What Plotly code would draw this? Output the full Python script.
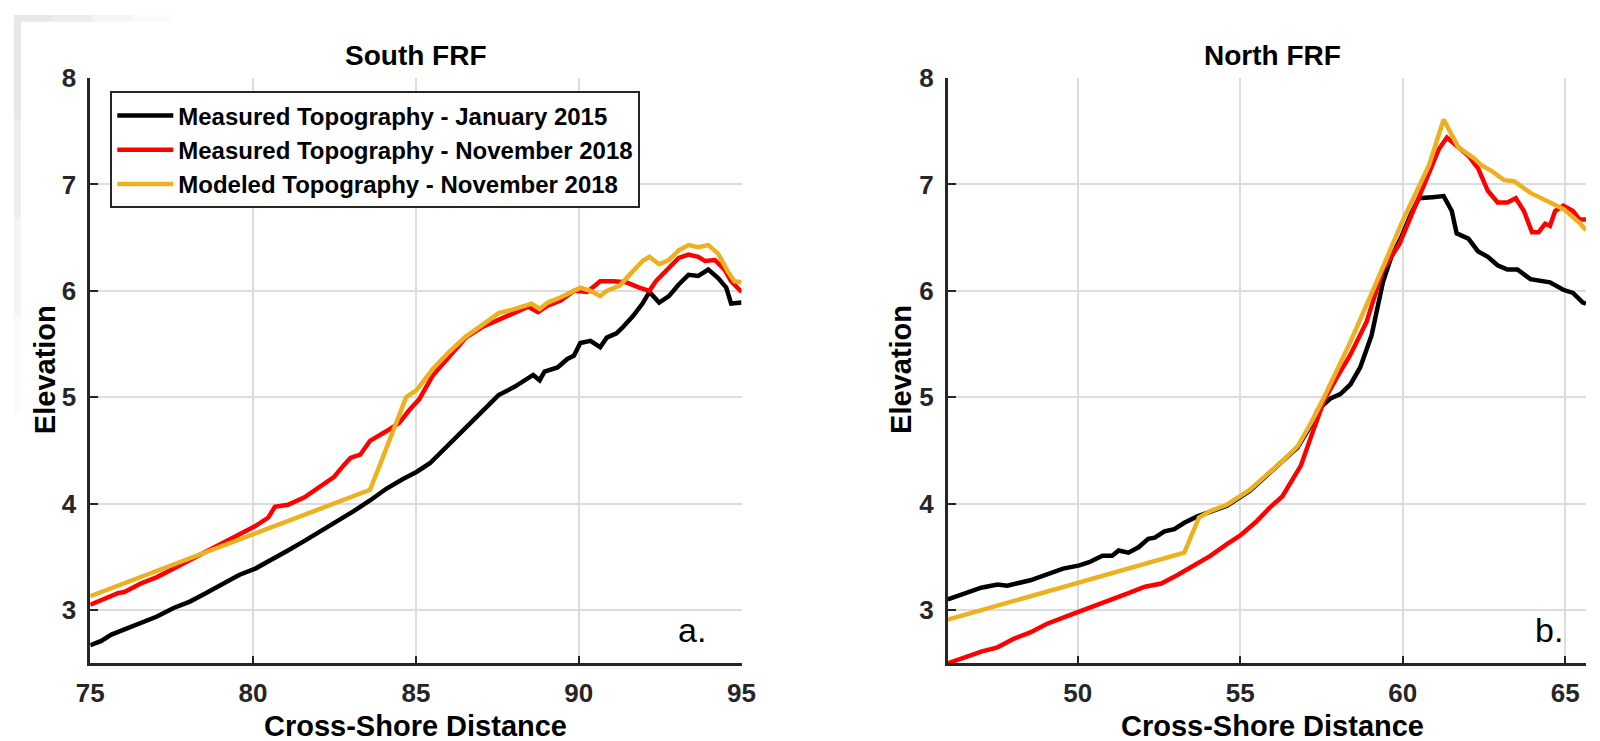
import plotly.graph_objects as go

# ---------------- data ----------------
# South FRF (panel a)
south_x_jan2015 = [75.0, 75.34, 75.65, 76.05, 76.55, 77.05, 77.56, 78.06, 78.56, 79.06, 79.57, 80.07, 80.57, 81.07,
                   81.58, 82.08, 82.58, 83.09, 83.59, 84.09, 84.59, 85.03, 85.43, 86.03, 86.53, 87.04, 87.54, 88.04,
                   88.45, 88.6, 88.8, 88.95, 89.35, 89.65, 89.85, 90.05, 90.36, 90.66, 90.86, 91.16, 91.36, 91.66,
                   91.96, 92.17, 92.47, 92.77, 93.07, 93.37, 93.67, 93.98, 94.28, 94.53, 94.68, 95.0]
south_y_jan2015 = [2.67, 2.71, 2.77, 2.82, 2.88, 2.94, 3.02, 3.08, 3.16, 3.25, 3.33, 3.39, 3.47, 3.56,
                   3.65, 3.74, 3.83, 3.93, 4.03, 4.14, 4.23, 4.30, 4.38, 4.56, 4.72, 4.87, 5.02, 5.10,
                   5.19, 5.21, 5.16, 5.24, 5.28, 5.36, 5.39, 5.51, 5.53, 5.47, 5.56, 5.60, 5.66, 5.76,
                   5.88, 5.99, 5.89, 5.95, 6.06, 6.15, 6.14, 6.20, 6.12, 6.03, 5.88, 5.89]

south_x_nov2018 = [75.0, 75.44, 75.85, 76.05, 76.55, 77.05, 77.56, 78.06, 78.56, 79.06, 79.57, 80.07, 80.47, 80.67,
                   81.07, 81.58, 82.08, 82.48, 82.78, 82.99, 83.29, 83.59, 84.09, 84.49, 84.8, 85.1, 85.53, 86.03,
                   86.53, 87.04, 87.54, 88.04, 88.45, 88.75, 89.05, 89.45, 89.85, 90.26, 90.66, 91.06, 91.46, 91.86,
                   92.17, 92.37, 92.77, 93.07, 93.37, 93.67, 93.88, 94.18, 94.48, 94.68, 95.0]
south_y_nov2018 = [3.05, 3.11, 3.16, 3.17, 3.25, 3.31, 3.39, 3.47, 3.54, 3.63, 3.71, 3.79, 3.87, 3.97,
                   3.99, 4.06, 4.16, 4.25, 4.36, 4.43, 4.46, 4.59, 4.68, 4.76, 4.88, 4.98, 5.21, 5.39,
                   5.56, 5.66, 5.73, 5.80, 5.85, 5.80, 5.86, 5.91, 6.00, 5.99, 6.09, 6.09, 6.08, 6.03,
                   6.00, 6.09, 6.21, 6.31, 6.34, 6.32, 6.28, 6.29, 6.20, 6.09, 5.99]

south_x_model = [75.0, 83.59, 83.89, 84.29, 84.7, 85.03, 85.53, 86.03, 86.53, 87.04, 87.54, 88.04, 88.55, 88.8,
                 89.05, 89.45, 90.05, 90.36, 90.66, 90.86, 91.26, 91.56, 91.96, 92.17, 92.47, 92.77, 93.07,
                 93.37, 93.67, 93.98, 94.28, 94.58, 94.78, 95.0]
south_y_model = [3.13, 4.13, 4.36, 4.69, 5.00, 5.07, 5.27, 5.43, 5.57, 5.68, 5.79, 5.83, 5.88, 5.83,
                 5.89, 5.94, 6.03, 6.00, 5.95, 6.00, 6.05, 6.15, 6.28, 6.32, 6.25, 6.29, 6.38,
                 6.43, 6.41, 6.43, 6.35, 6.18, 6.09, 6.08]

# North FRF (panel b)
north_x_jan2015 = [46.0, 46.52, 47.03, 47.53, 47.83, 48.54, 49.04, 49.55, 50.05, 50.35, 50.76, 51.06, 51.26, 51.56,
                   51.87, 52.17, 52.37, 52.67, 52.97, 53.28, 53.68, 54.08, 54.59, 55.29, 55.7, 56.3, 56.77, 57.18,
                   57.38, 57.78, 58.08, 58.39, 58.69, 59.04, 59.24, 59.39, 59.65, 59.95, 60.25, 60.5, 60.91, 61.26,
                   61.51, 61.66, 62.02, 62.32, 62.62, 62.92, 63.22, 63.53, 63.93, 64.23, 64.53, 64.94, 65.24,
                   65.54, 65.64]
north_y_jan2015 = [3.10, 3.16, 3.21, 3.24, 3.23, 3.28, 3.34, 3.39, 3.42, 3.45, 3.51, 3.51, 3.56, 3.54,
                   3.59, 3.67, 3.68, 3.74, 3.76, 3.82, 3.88, 3.92, 3.98, 4.12, 4.23, 4.39, 4.53, 4.74,
                   4.88, 4.99, 5.03, 5.12, 5.28, 5.58, 5.89, 6.08, 6.32, 6.50, 6.72, 6.87, 6.88, 6.89,
                   6.75, 6.54, 6.49, 6.37, 6.32, 6.24, 6.20, 6.20, 6.11, 6.09, 6.08, 6.01, 5.98,
                   5.89, 5.88]

north_x_nov2018 = [46.0, 46.52, 47.03, 47.53, 48.03, 48.54, 49.04, 49.55, 50.05, 50.55, 51.06, 51.56, 52.07, 52.57,
                   53.07, 53.58, 54.08, 54.59, 54.99, 55.49, 55.9, 56.3, 56.57, 56.87, 57.18, 57.58, 57.98, 58.39,
                   58.89, 59.39, 59.9, 60.4, 60.81, 61.11, 61.36, 61.61, 62.02, 62.32, 62.62, 62.92, 63.22, 63.48,
                   63.73, 63.98, 64.18, 64.38, 64.53, 64.69, 64.94, 65.24, 65.44, 65.64]
north_y_nov2018 = [2.50, 2.56, 2.61, 2.65, 2.73, 2.79, 2.87, 2.93, 2.99, 3.04, 3.10, 3.16, 3.22, 3.25,
                   3.33, 3.42, 3.51, 3.62, 3.70, 3.83, 3.96, 4.07, 4.20, 4.36, 4.63, 4.97, 5.19, 5.40,
                   5.71, 6.20, 6.44, 6.81, 7.12, 7.33, 7.44, 7.38, 7.27, 7.15, 6.94, 6.83, 6.83, 6.87,
                   6.75, 6.55, 6.55, 6.63, 6.61, 6.75, 6.80, 6.75, 6.67, 6.67]

north_x_model = [46.0, 53.28, 53.73, 54.08, 54.59, 54.89, 55.29, 55.7, 56.3, 56.77, 57.18, 57.58, 58.39, 59.19,
                 60.0, 60.81, 61.26, 61.71, 62.22, 62.42, 62.72, 63.12, 63.43, 63.93, 64.43, 64.94, 65.44, 65.64]
north_y_model = [2.91, 3.54, 3.87, 3.93, 3.99, 4.05, 4.13, 4.24, 4.40, 4.54, 4.76, 5.00, 5.52, 6.08,
                 6.66, 7.18, 7.61, 7.35, 7.24, 7.18, 7.13, 7.04, 7.03, 6.92, 6.84, 6.77, 6.64, 6.57]

series_names = ["Measured Topography - January 2015",
                "Measured Topography - November 2018",
                "Modeled Topography - November 2018"]
series_colors = ["#000000", "#FF0000", "#EDB120"]

y_ticks = [3, 4, 5, 6, 7, 8]
south_x_ticks = [75, 80, 85, 90, 95]
north_x_ticks = [50, 55, 60, 65]

# ---------------- figure ----------------
W, H = 1600, 741
FONT = "Liberation Sans, Arial, Helvetica, sans-serif"
AX = "#262626"

fig = go.Figure()

south = [(south_x_jan2015, south_y_jan2015), (south_x_nov2018, south_y_nov2018), (south_x_model, south_y_model)]
north = [(north_x_jan2015, north_y_jan2015), (north_x_nov2018, north_y_nov2018), (north_x_model, north_y_model)]

for i, (xs, ys) in enumerate(south):
    fig.add_trace(go.Scatter(x=xs, y=ys, mode="lines", name=series_names[i],
                             line=dict(color=series_colors[i], width=4.5),
                             xaxis="x", yaxis="y", showlegend=True, legendgroup=str(i)))
for i, (xs, ys) in enumerate(north):
    fig.add_trace(go.Scatter(x=xs, y=ys, mode="lines", name=series_names[i],
                             line=dict(color=series_colors[i], width=4.5),
                             xaxis="x2", yaxis="y2", showlegend=False, legendgroup=str(i)))

def px_x(p):
    return p / W

def px_y(p):
    return 1 - p / H

common = dict(ticks="inside", ticklen=8, tickwidth=2, tickcolor=AX,
              showline=True, linecolor=AX, linewidth=2.5, mirror=False,
              showgrid=True, gridcolor="#dcdcdc", gridwidth=1.5, zeroline=False,
              tickfont=dict(family=FONT, size=26, color=AX, weight="bold"))

ydom = [px_y(661.7), px_y(64.3)]

# faint grey frame in the top-left corner of the page (decoration)
frame_shapes = []
for k, op in enumerate([0.9, 0.65, 0.4, 0.2]):
    frame_shapes.append(dict(type="rect", xref="paper", yref="paper", layer="below", line=dict(width=0),
                             fillcolor="#e4e4e4", opacity=op,
                             x0=px_x(40 * k), x1=px_x(40 * (k + 1)), y0=px_y(7), y1=1))
    frame_shapes.append(dict(type="rect", xref="paper", yref="paper", layer="below", line=dict(width=0),
                             fillcolor="#e4e4e4", opacity=op,
                             x0=0, x1=px_x(7), y0=px_y(7 + 100 * (k + 1)), y1=px_y(7 + 100 * k)))

fig.update_layout(
    width=W, height=H,
    margin=dict(l=0, r=0, t=0, b=0),
    paper_bgcolor="white", plot_bgcolor="white",
    xaxis=dict(domain=[px_x(77.6), px_x(740.5)], range=[75, 95], tickvals=south_x_ticks,
               anchor="y", ticklabelstandoff=5, **common),
    yaxis=dict(domain=ydom, range=[2.5, 8], tickvals=y_ticks, anchor="x", ticklabelstandoff=6, **common),
    xaxis2=dict(domain=[px_x(950.4), 1.0], range=[46, 65.64], tickvals=north_x_ticks,
                anchor="y2", ticklabelstandoff=5, **common),
    yaxis2=dict(domain=ydom, range=[2.5, 8], tickvals=y_ticks, anchor="x2", ticklabelstandoff=6, **common),
    legend=dict(x=px_x(98), y=px_y(78), xanchor="left", yanchor="top",
                bgcolor="white", bordercolor=AX, borderwidth=2,
                font=dict(family=FONT, size=24, color="#000000", weight="bold"),
                itemwidth=56, tracegroupgap=0),
    showlegend=True,
    shapes=frame_shapes,
)

def txt(x, y, s, size, bold=True, angle=0):
    fig.add_annotation(x=px_x(x), y=px_y(y), xref="paper", yref="paper", text=s, showarrow=False,
                       xanchor="center", yanchor="middle", textangle=angle,
                       font=dict(family=FONT, size=size, color="#000000",
                                 weight="bold" if bold else "normal"))

txt(409, 41, "South FRF", 28)
txt(1281, 41, "North FRF", 28)
txt(409, 726, "Cross-Shore Distance", 29)
txt(1281, 726, "Cross-Shore Distance", 29)
txt(31, 362, "Elevation", 29, angle=-90)
txt(902, 362, "Elevation", 29, angle=-90)
txt(690, 628, "a.", 34, bold=False)
txt(1562, 628, "b.", 34, bold=False)

fig.write_html("out.html",
               config={"displayModeBar": False},
               post_script="document.body.style.margin='0px';document.body.style.padding='0px';"
                           "document.body.style.overflow='hidden';")
